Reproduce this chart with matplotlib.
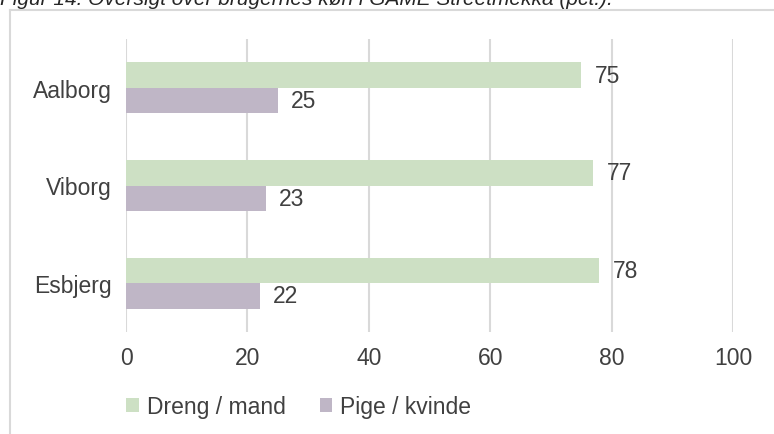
import numpy as np
import matplotlib.pyplot as plt
from matplotlib.lines import Line2D

plt.rcParams['font.family'] = ['Liberation Sans', 'DejaVu Sans']

# Kønsfordeling pr. by (pct.)
cities = ["Esbjerg", "Viborg", "Aalborg"]
dreng = [78, 77, 75]
pige = [22, 23, 25]
series_names = ["Dreng / mand", "Pige / kvinde"]

green = "#cde0c4"
purple = "#bfb6c6"
txt = "#404040"
grid = "#d9d9d9"

fig = plt.figure(figsize=(7.74, 4.35), dpi=100)
ax = fig.add_axes([126 / 774, 1 - 333 / 435, (733 - 126) / 774, (333 - 40) / 435])

y = np.arange(len(cities))
h = 0.26
b1 = ax.barh(y + h / 2, dreng, height=h, color=green, label=series_names[0], zorder=2)
b2 = ax.barh(y - h / 2, pige, height=h, color=purple, label=series_names[1], zorder=2)

for bars, vals in [(b1, dreng), (b2, pige)]:
    for rect, v in zip(bars, vals):
        ax.text(v + 2.2, rect.get_y() + rect.get_height() / 2, str(v),
                va="center", ha="left", fontsize=16.5, color=txt)

ax.set_xlim(0, 100)
ax.set_ylim(-0.5, 2.5)
ax.set_xticks(range(0, 101, 20))
ax.set_yticks(y)
ax.set_yticklabels(cities)
ax.tick_params(length=0, labelsize=16.5, labelcolor=txt)
ax.tick_params(axis="x", pad=10)
ax.tick_params(axis="y", pad=10)
ax.xaxis.grid(True, color=grid, linewidth=1.5, zorder=0)
ax.set_axisbelow(True)
for s in ax.spines.values():
    s.set_visible(False)

leg = fig.legend(handles=[b1, b2], labels=series_names, loc="center left",
                 bbox_to_anchor=(126 / 774, 1 - 408 / 435), ncol=2, frameon=False,
                 fontsize=16.5, handlelength=0.55, handleheight=0.55, handletextpad=0.35,
                 columnspacing=1.5, borderaxespad=0, borderpad=0)
for t in leg.get_texts():
    t.set_color(txt)

# ramme om diagrammet
fx, fy = 9.5 / 774, 1 - 10.5 / 435
fig.add_artist(Line2D([fx, fx], [0, fy], color=grid, lw=1.5, transform=fig.transFigure))
fig.add_artist(Line2D([fx, 1], [fy, fy], color=grid, lw=1.5, transform=fig.transFigure))

fig.text(0.0, 1 - 5 / 435, "Figur 14: Oversigt over brugernes køn i GAME Streetmekka (pct.).",
         fontsize=15, style="italic", color="#262626", va="baseline", ha="left")

fig.savefig("out.png", dpi=100)
